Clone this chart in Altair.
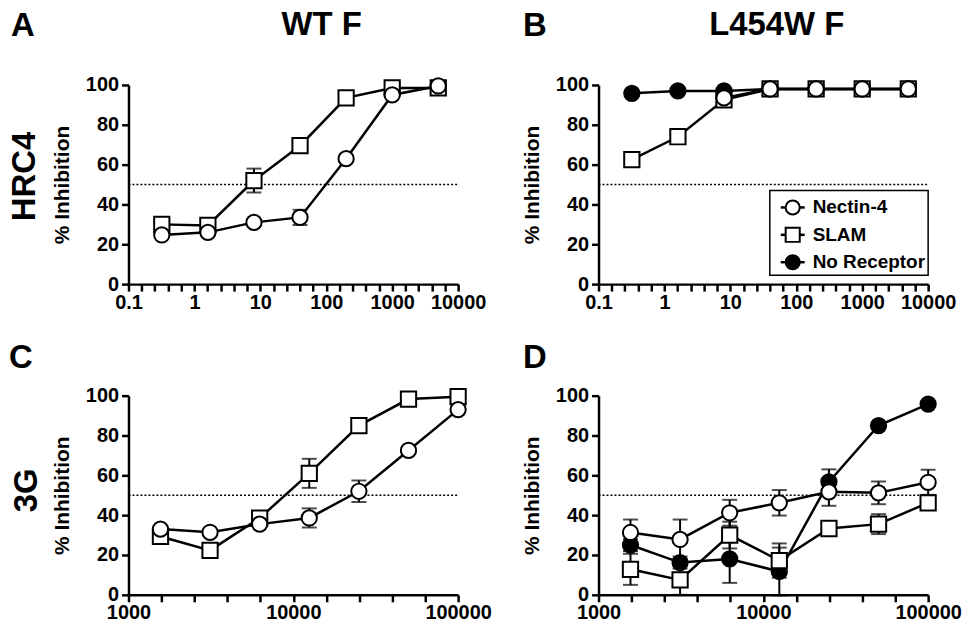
import altair as alt
import pandas as pd

FONT = "Liberation Sans"

# ---------------- data ----------------
conc_top = [0.32, 1.6, 8, 40, 200, 1000, 5000]
conc_bot = [1563, 3125, 6250, 12500, 25000, 50000, 100000]

A_nectin = [24.7, 26, 31, 33.5, 63, 95, 99.5]
A_nectin_err = [0, 0, 0, 3.8, 0, 0, 0]
A_slam = [30, 29.5, 52, 69.5, 93.5, 98.5, 98.5]
A_slam_err = [0, 0, 6, 0, 0, 0, 0]

B_conc_nectin = [8, 40, 200, 1000, 5000]
B_nectin = [93.5, 98, 98, 98, 98]
B_slam = [62.5, 74, 92.5, 98, 98, 98, 98]
B_norec = [95.8, 97, 97, 98, 98, 98, 98]

C_nectin = [33, 31.4, 35.5, 38.6, 52, 72.5, 93]
C_nectin_err = [0, 0, 0, 4.8, 5.4, 0, 0]
C_slam = [29.3, 22.3, 38.5, 61, 85, 98.3, 99.5]
C_slam_err = [0, 0, 0, 7.3, 2, 0, 0]

D_nectin = [31.3, 27.8, 41.2, 46.2, 51.7, 51.2, 56.5]
D_nectin_err = [6.5, 10, 6.5, 6.4, 7, 5.7, 6.3]
D_slam = [12.8, 7.5, 30, 17.2, 33.3, 35.5, 46.2]
D_slam_err = [7.8, 7.5, 6.7, 8.6, 1.5, 5, 2]
D_norec = [25, 16.2, 18, 11.7, 56.7, 85, 95.8]
D_norec_err = [3, 3, 12, 12, 6.3, 1, 1]

series_names = ["Nectin-4", "SLAM", "No Receptor"]
series_shape = {"Nectin-4": "circle", "SLAM": "square", "No Receptor": "circle"}
series_fill = {"Nectin-4": "white", "SLAM": "white", "No Receptor": "black"}

panel_letters = ["A", "B", "C", "D"]
col_titles = ["WT F", "L454W F"]
row_labels = ["HRC4", "3G"]
y_title = "% Inhibition"
y_ticks = [0, 20, 40, 60, 80, 100]
top_domain = [0.1, 10000]
bot_domain = [1000, 100000]
top_ticks = [10 ** (k / 5) for k in range(-5, 21)]
bot_ticks = [10 ** (k / 5) for k in range(15, 26)]

W, H = 331, 200

LABEL_EXPR = ("abs(log(datum.value)/LN10 - round(log(datum.value)/LN10)) < 0.001 "
              "? format(datum.value, '~g') : ''")


def make_df(conc, vals, errs=None):
    if errs is None:
        errs = [0] * len(vals)
    df = pd.DataFrame({"conc": conc, "val": vals, "err": errs})
    df["lo"] = df["val"] - df["err"]
    df["hi"] = df["val"] + df["err"]
    return df


def panel(series, domain, ticks, texts, legend=False):
    xs = alt.Scale(type="log", domain=domain, nice=False)
    xa = alt.Axis(values=ticks, labelExpr=LABEL_EXPR, title=None, labelFlush=False,
                  labelOverlap=False, labelBound=False, labelPadding=1)
    ys = alt.Scale(domain=[0, 100], nice=False, zero=True)
    ya = alt.Axis(values=y_ticks, title=y_title, titleX=-66, titleY=H / 2,
                  titleAlign="center", titleBaseline="middle", titleAngle=270)
    X = alt.X("conc:Q", scale=xs, axis=xa)

    layers = []
    layers.append(
        alt.Chart(pd.DataFrame({"y": [50]})).mark_rule(
            color="black", strokeDash=[2, 2], strokeWidth=1.5
        ).encode(y=alt.Y("y:Q", scale=ys, axis=ya), x=alt.value(0), x2=alt.value(W))
    )
    for name, df in series:
        base = alt.Chart(df)
        layers.append(base.mark_line(color="black", strokeWidth=2.5).encode(
            x=X, y=alt.Y("val:Q", scale=ys, axis=ya)))
        edf = df[df["err"] > 0]
        if len(edf):
            eb = alt.Chart(edf)
            layers.append(eb.mark_rule(color="black", strokeWidth=2).encode(
                x=X, y=alt.Y("lo:Q", scale=ys, axis=ya), y2="hi:Q"))
            layers.append(eb.mark_tick(color="black", orient="horizontal", size=15,
                                       thickness=2).encode(
                x=X, y=alt.Y("lo:Q", scale=ys, axis=ya)))
            layers.append(eb.mark_tick(color="black", orient="horizontal", size=15,
                                       thickness=2).encode(
                x=X, y=alt.Y("hi:Q", scale=ys, axis=ya)))
        layers.append(base.mark_point(
            shape=series_shape[name], filled=True, fill=series_fill[name],
            stroke="black", strokeWidth=2, size=235, opacity=1
        ).encode(x=X, y=alt.Y("val:Q", scale=ys, axis=ya)))

    for txt, px, py, angle in texts:
        layers.append(alt.Chart(pd.DataFrame({"t": [txt]})).mark_text(
            font=FONT, fontWeight="bold", fontSize=33, color="black",
            align="center", baseline="middle", angle=angle
        ).encode(text="t:N", x=alt.value(px), y=alt.value(py)))

    if legend:
        lx0, lx1, ly0, ly1 = 172, 331, 106, 191
        layers.append(alt.Chart(pd.DataFrame({"a": [0]})).mark_rect(
            fill="white", stroke="black", strokeWidth=1.5
        ).encode(x=alt.value(lx0), x2=alt.value(lx1), y=alt.value(ly0), y2=alt.value(ly1)))
        for i, name in enumerate(series_names):
            yy = 123 + i * 27.5
            ldf = pd.DataFrame({"t": [name]})
            layers.append(alt.Chart(ldf).mark_rule(color="black", strokeWidth=2.5).encode(
                x=alt.value(183), x2=alt.value(207), y=alt.value(yy)))
            layers.append(alt.Chart(ldf).mark_point(
                shape=series_shape[name], filled=True, fill=series_fill[name],
                stroke="black", strokeWidth=2, size=200, opacity=1
            ).encode(x=alt.value(195), y=alt.value(yy)))
            layers.append(alt.Chart(ldf).mark_text(
                font=FONT, fontWeight="bold", fontSize=19, color="black",
                align="left", baseline="middle"
            ).encode(text="t:N", x=alt.value(215), y=alt.value(yy)))

    return alt.layer(*layers).properties(width=W, height=H)


pA = panel(
    [("SLAM", make_df(conc_top, A_slam, A_slam_err)),
     ("Nectin-4", make_df(conc_top, A_nectin, A_nectin_err))],
    top_domain, top_ticks,
    [(panel_letters[0], -106, -59, 0), (col_titles[0], 194, -60, 0),
     (row_labels[0], -104, 92, 270)])

pB = panel(
    [("No Receptor", make_df(conc_top, B_norec)),
     ("SLAM", make_df(conc_top, B_slam)),
     ("Nectin-4", make_df(B_conc_nectin, B_nectin))],
    top_domain, top_ticks,
    [(panel_letters[1], -64, -59, 0), (col_titles[1], 179, -60, 0)],
    legend=True)

pC = panel(
    [("SLAM", make_df(conc_bot, C_slam, C_slam_err)),
     ("Nectin-4", make_df(conc_bot, C_nectin, C_nectin_err))],
    bot_domain, bot_ticks,
    [(panel_letters[2], -108, -38, 0), (row_labels[1], -102, 95, 270)])

pD = panel(
    [("No Receptor", make_df(conc_bot, D_norec, D_norec_err)),
     ("SLAM", make_df(conc_bot, D_slam, D_slam_err)),
     ("Nectin-4", make_df(conc_bot, D_nectin, D_nectin_err))],
    bot_domain, bot_ticks,
    [(panel_letters[3], -64, -38, 0)])

chart = alt.concat(
    pA, pB, pC, pD, columns=2,
    spacing=alt.RowColnumber(row=112, column=141), bounds="flush"
).resolve_scale(
    x="independent", y="independent"
).configure_view(stroke=None).configure_axis(
    domainColor="black", domainWidth=2.5, tickColor="black", tickWidth=2.5,
    tickSize=7, labelFont=FONT, labelFontWeight="bold", labelFontSize=20,
    labelColor="black", labelPadding=3, titleFont=FONT, titleFontWeight="bold",
    titleFontSize=21, titleColor="black", grid=False
).properties(background="white",
             padding={"left": 1, "top": 0, "right": 0, "bottom": -4})

chart.save("out.html", embed_options={"renderer": "svg", "actions": False})
